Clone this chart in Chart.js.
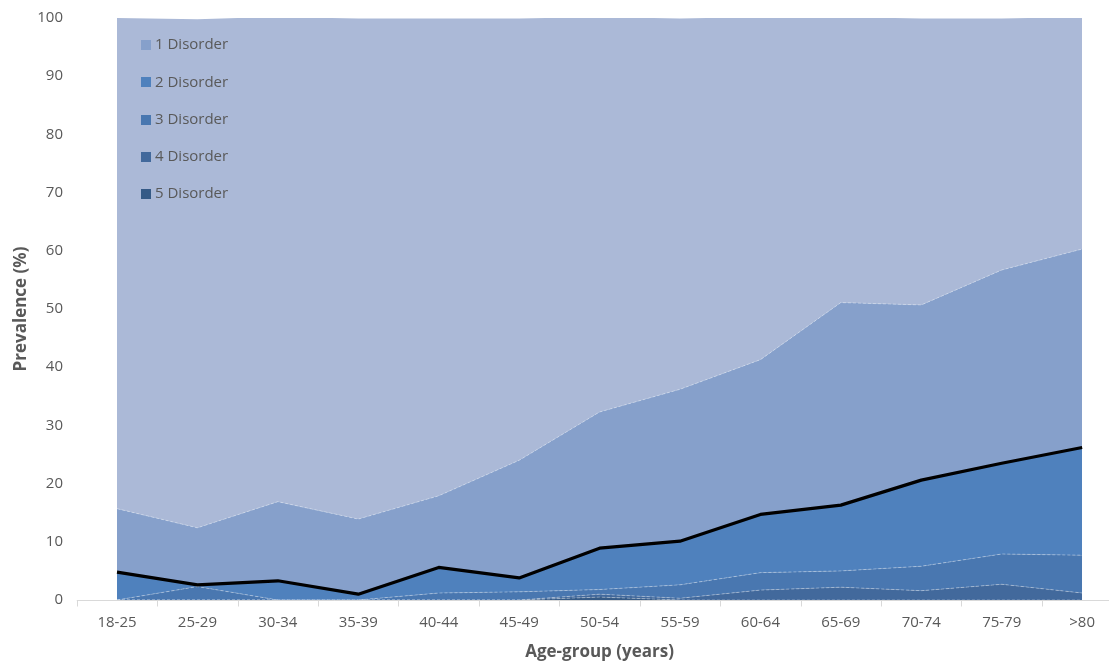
<!DOCTYPE html>
<html>
<head>
<meta charset="utf-8">
<script src="https://cdn.jsdelivr.net/npm/chart.js@4.4.0/dist/chart.umd.min.js"></script>
<style>
  html, body { margin: 0; padding: 0; background: #ffffff; }
  #wrap { width: 1109px; height: 662px; }
</style>
</head>
<body>
<div id="wrap"><canvas id="c" width="1109" height="662"></canvas></div>
<script>
// ---- data ----
const ageGroups = ['18-25','25-29','30-34','35-39','40-44','45-49','50-54','55-59','60-64','65-69','70-74','75-79','>80'];
const fiveDisorder  = [0, 0, 0, 0, 0, 0, 0.5, 0, 0, 0, 0, 0, 0];
const fourDisorder  = [0, 0, 0, 0, 0, 0, 0.5, 0.3, 1.7, 2.2, 1.6, 2.7, 1.2];
const threeDisorder = [0, 2.3, 0, 0, 1.2, 1.4, 0.8, 2.3, 3.0, 2.8, 4.2, 5.2, 6.5];
const twoDisorder   = [4.8, 0.3, 3.3, 1.0, 4.4, 2.4, 7.1, 7.5, 10.0, 11.3, 14.8, 15.6, 18.5];
const oneDisorder   = [10.9, 9.8, 13.6, 12.9, 12.3, 20.2, 23.4, 26.1, 26.6, 34.8, 30.1, 33.2, 34.1];
const noDisorder    = [84.3, 87.4, 83.3, 86.0, 82.0, 75.9, 67.9, 63.7, 58.9, 49.1, 49.2, 43.2, 39.9];
const twoOrMore     = [4.8, 2.6, 3.3, 1.0, 5.6, 3.8, 8.9, 10.1, 14.7, 16.3, 20.6, 23.5, 26.2];
const yTicks = [0, 10, 20, 30, 40, 50, 60, 70, 80, 90, 100];
const legendLabels = ['1 Disorder','2 Disorder','3 Disorder','4 Disorder','5 Disorder'];

const FONT = "'Open Sans', 'Liberation Sans', Arial, sans-serif";
const GREY = '#595959';
const edge = { borderColor: 'rgba(255,255,255,0.35)', borderWidth: 1, borderDash: [3, 2] };

function area(label, data, color, extra) {
  return Object.assign({
    label, data, backgroundColor: color, fill: '-1', stack: 'areas',
    pointRadius: 0, tension: 0, clip: 6, order: 1
  }, edge, extra || {});
}

const datasets = [
  area('5 Disorder', fiveDisorder, '#355a86', { fill: 'origin' }),
  area('4 Disorder', fourDisorder, '#42699c'),
  area('3 Disorder', threeDisorder, '#4977b0'),
  area('2 Disorder', twoDisorder, '#4f81bd'),
  area('1 Disorder', oneDisorder, '#86a0cb'),
  area('No disorder', noDisorder, '#abb9d7', { borderWidth: 0, borderColor: 'rgba(0,0,0,0)' }),
  {
    label: '≥2 Disorders', data: twoOrMore, stack: 'line', fill: false,
    borderColor: '#000000', borderWidth: 3.2, pointRadius: 0, tension: 0,
    backgroundColor: '#000000', order: 0, clip: 6, borderJoinStyle: 'round'
  }
];

const decorPlugin = {
  id: 'decor',
  afterDatasetsDraw(chart) {
    const x = chart.scales.x, ctx = chart.ctx, area = chart.chartArea;
    const y = Math.round(area.bottom) + 0.5;
    ctx.save();
    // category axis line with tick marks between categories
    ctx.strokeStyle = '#d9d9d9';
    ctx.lineWidth = 1;
    ctx.beginPath();
    ctx.moveTo(x.getPixelForValue(-0.5), y);
    ctx.lineTo(chart.width, y);
    for (let i = 0; i <= ageGroups.length; i++) {
      const px = Math.round(x.getPixelForValue(i - 0.5)) + 0.5;
      ctx.moveTo(px, y);
      ctx.lineTo(px, y + 6);
    }
    ctx.stroke();
    // legend inside the plot area
    ctx.font = '15px ' + FONT;
    ctx.textAlign = 'left';
    ctx.textBaseline = 'middle';
    legendLabels.forEach((lab, i) => {
      const ds = chart.data.datasets.find(d => d.label === lab);
      const cy = area.top + 27 + i * 37.25;
      ctx.fillStyle = ds.backgroundColor;
      ctx.fillRect(area.left + 24, Math.round(cy - 5), 10, 10);
      ctx.fillStyle = GREY;
      ctx.fillText(lab, area.left + 38, cy);
    });
    ctx.restore();
  }
};

new Chart(document.getElementById('c'), {
  type: 'line',
  data: { labels: ageGroups, datasets },
  plugins: [decorPlugin],
  options: {
    responsive: false,
    animation: false,
    devicePixelRatio: 1,
    events: [],
    layout: { padding: { left: 0, right: 21, top: 18, bottom: 0 } },
    plugins: {
      tooltip: { enabled: false },
      legend: { display: false }
    },
    scales: {
      x: {
        type: 'category',
        offset: false,
        grid: { display: false, drawTicks: false },
        border: { display: false },
        ticks: { color: GREY, font: { family: FONT, size: 15 }, padding: 14, maxRotation: 0, autoSkip: false },
        title: { display: true, text: 'Age-group (years)', color: GREY, font: { family: FONT, size: 17, weight: 'bold' }, padding: { top: 0, bottom: 0 } },
        afterFit(s) { s.height = 62; }
      },
      y: {
        stacked: true,
        min: 0, max: 100,
        afterBuildTicks(s) { s.ticks = yTicks.map(v => ({ value: v })); },
        grid: { display: false, drawTicks: false },
        border: { display: false },
        ticks: { color: GREY, font: { family: FONT, size: 15 }, padding: 54 },
        title: { display: true, text: 'Prevalence (%)', color: GREY, font: { family: FONT, size: 17, weight: 'bold' }, padding: { top: 11, bottom: 0 } },
        afterFit(s) { s.width = 117; s.paddingTop = 0; s.paddingBottom = 0; }
      }
    }
  }
});
</script>
</body>
</html>
